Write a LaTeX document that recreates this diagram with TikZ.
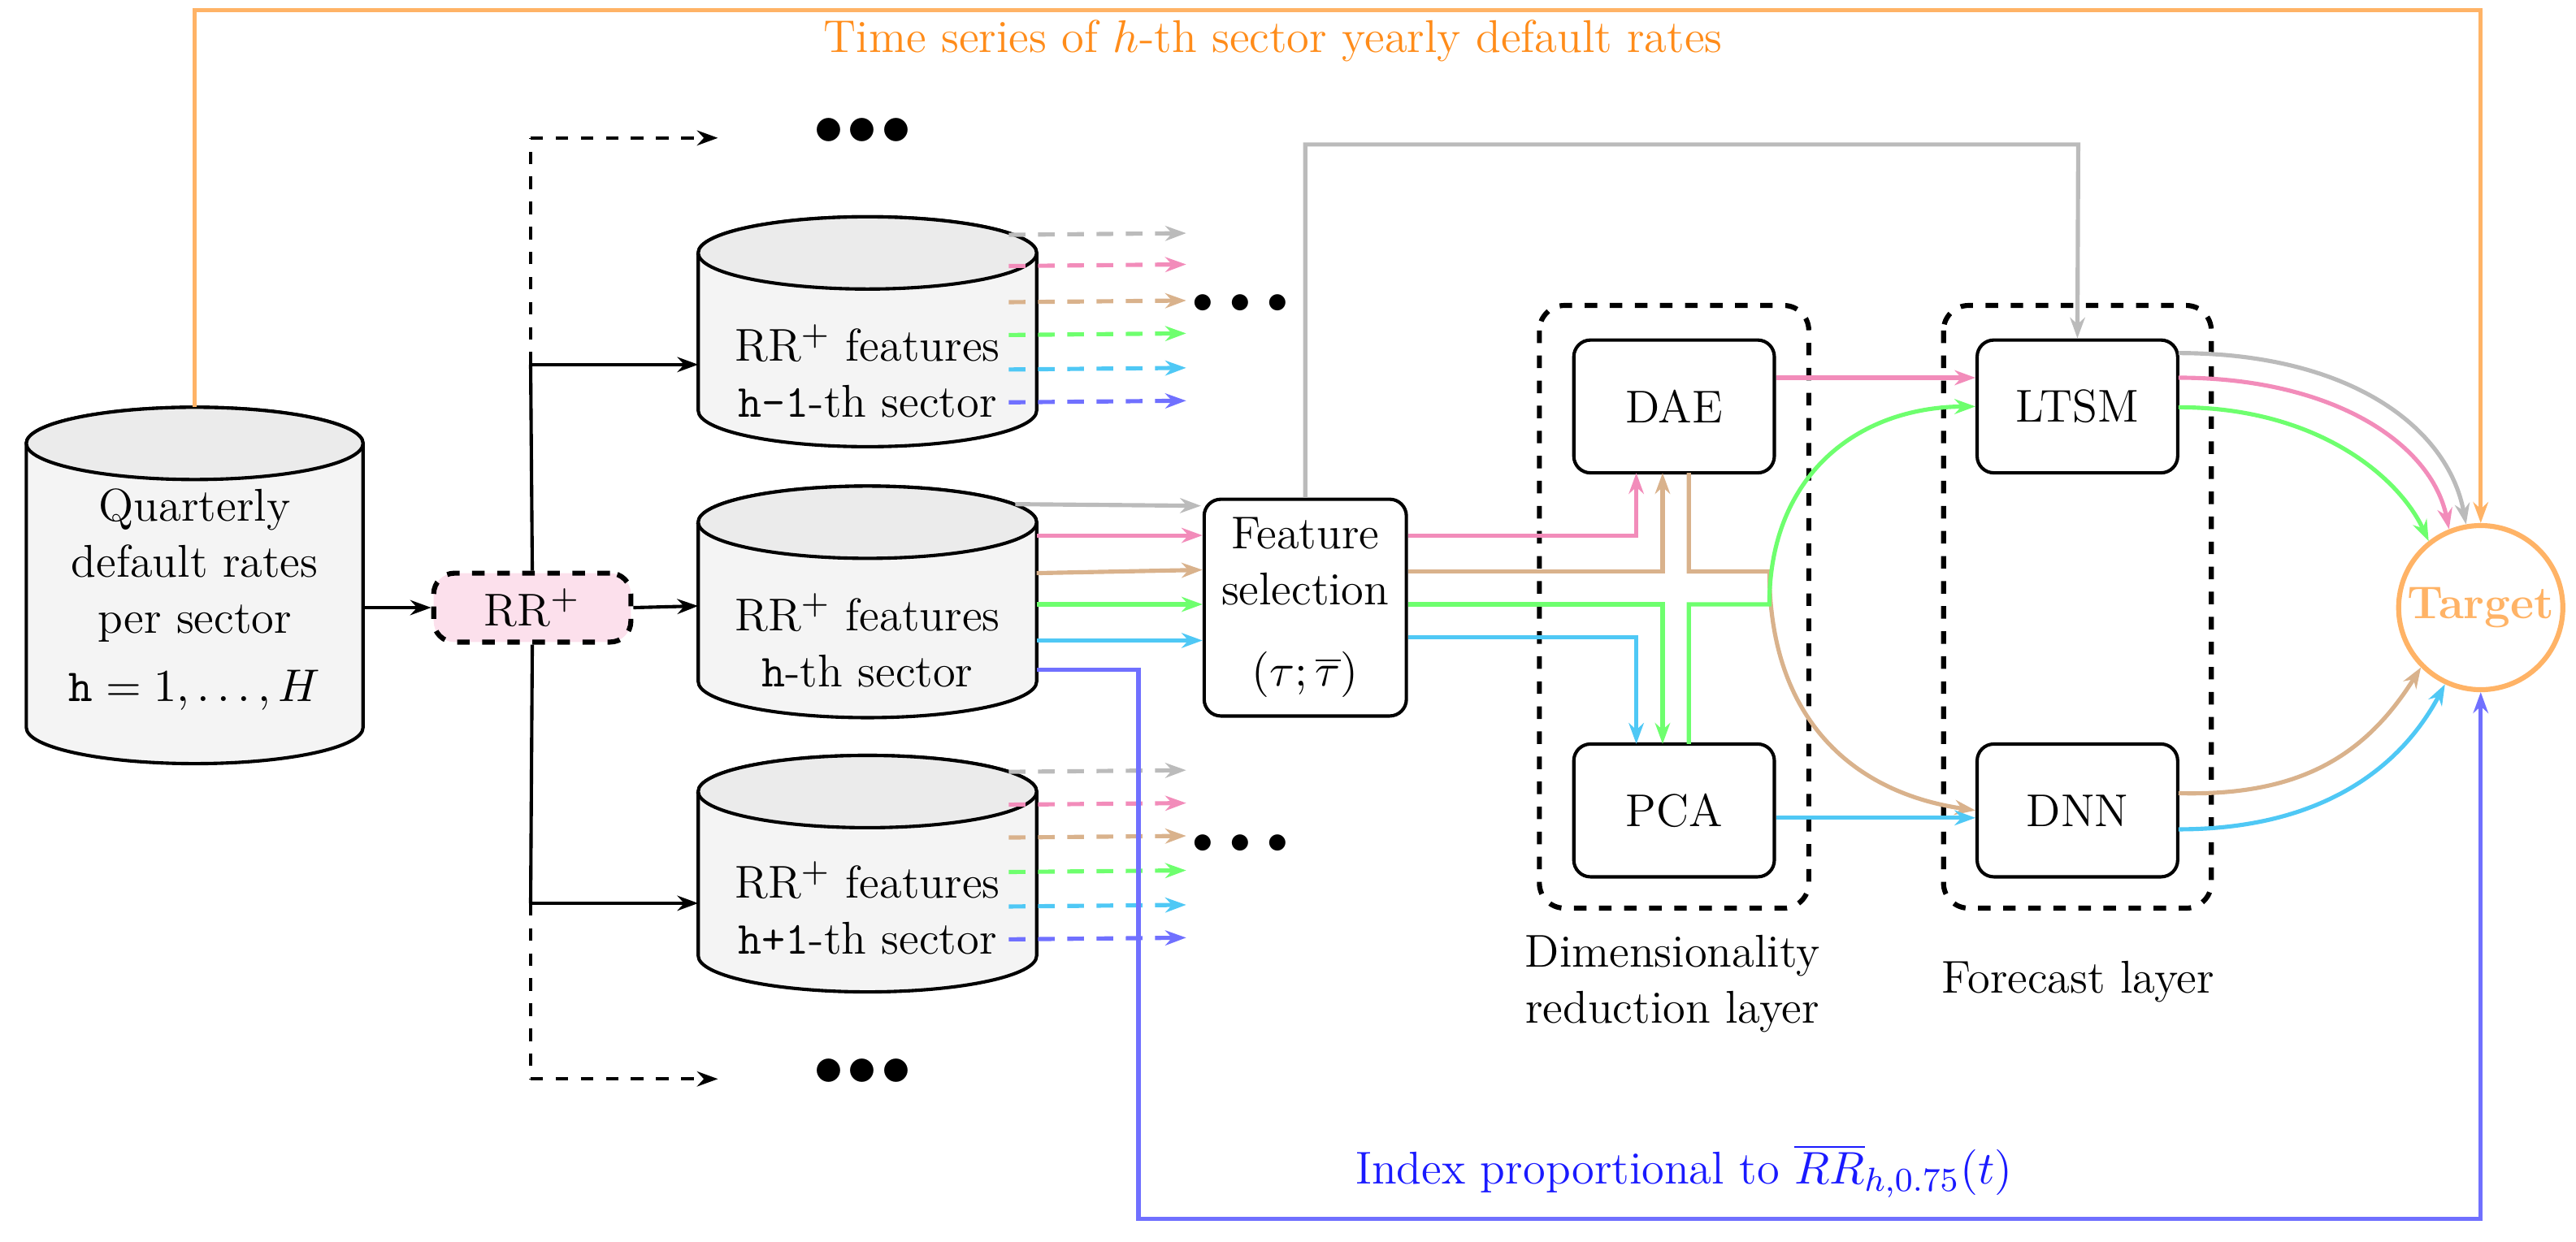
\documentclass[tikz,border=0pt]{standalone}
\usetikzlibrary{arrows.meta,calc}
\definecolor{cgray}{HTML}{BBBBBB}
\definecolor{cpink}{HTML}{F28CBA}
\definecolor{ctan}{HTML}{D9B28C}
\definecolor{cgreen}{HTML}{6EFF6E}
\definecolor{ccyan}{HTML}{4FC8F5}
\definecolor{cblue}{HTML}{7070FF}
\definecolor{corange}{HTML}{FFB366}
\definecolor{torange}{HTML}{FF8C1A}
\definecolor{tblue}{HTML}{1A1AFF}
\definecolor{cylbody}{HTML}{F4F4F4}
\definecolor{cyltop}{HTML}{EBEBEB}
\definecolor{rrfill}{HTML}{FCE0EC}
\begin{document}
\begin{tikzpicture}[x=0.3932pt,y=0.3932pt,
  every node/.style={font=\fontsize{11}{13.4}\selectfont},
  box/.style={draw,thick,rounded corners=4pt,minimum width=48pt,minimum height=31.8pt,align=center},
  col/.style={line width=1pt,-{Stealth[length=5pt,width=3.6pt]}},
  blk/.style={thick,-{Stealth[length=5pt,width=3.6pt]}},
  dsh/.style={col,dash pattern=on 4pt off 3pt},
  cylpath/.style={fill=cylbody,draw=black,thick},
  cyltoppath/.style={fill=cyltop,draw=black,thick}]
\useasboundingbox (0,0) rectangle (1568,-756);

% left cylinder
\path[cylpath] (16,-270) -- (16,-443) arc[start angle=180,end angle=360,x radius=40.3pt,y radius=8.65pt] -- (221,-270) arc[start angle=0,end angle=180,x radius=40.3pt,y radius=8.65pt] -- cycle;
\path[cyltoppath] (118.5,-270) ellipse[x radius=40.3pt,y radius=8.65pt];
\node[align=center] (c0) at (118.5,-365) {Quarterly\\default rates\\per sector\\[3pt]$\mathtt{h}=1,\dots,H$};

% right cylinders
\foreach \t/\b/\n in {154/250/c1,318/415/c2,482/582/c3}{
\path[cylpath] (425,-\t) -- (425,-\b) arc[start angle=180,end angle=360,x radius=40.5pt,y radius=8.65pt] -- (631,-\t) arc[start angle=0,end angle=180,x radius=40.5pt,y radius=8.65pt] -- cycle;
\path[cyltoppath] (528,-\t) ellipse[x radius=40.5pt,y radius=8.65pt];
}
\node[align=center] (c1) at (528,-226) {RR$^+$ features\\\texttt{h-1}-th sector};
\node[align=center] (c2) at (528,-390) {RR$^+$ features\\\texttt{h}-th sector};
\node[align=center] (c3) at (528,-553) {RR$^+$ features\\\texttt{h+1}-th sector};

% RR+ box
\node[draw,very thick,dashed,fill=rrfill,rounded corners=5pt,minimum width=47.2pt,minimum height=16.5pt] (rr) at (324,-370) {RR$^+$};
\draw[blk] (221,-370) -- (rr.west);
\draw[blk] (rr.east) -- (425,-369);
\coordinate (vtop) at (323,-84);
\coordinate (vbot) at (323,-657);
\draw[thick] (rr.north) -- (323,-222);
\draw[thick,dashed] (323,-222) -- (vtop);
\draw[blk,dashed] (vtop) -- (437,-84);
\draw[thick] (rr.south) -- (323,-550);
\draw[thick,dashed] (323,-550) -- (vbot);
\draw[blk,dashed] (vbot) -- (437,-657);
\draw[blk] (323,-222) -- (425,-222);
\draw[blk] (323,-550) -- (425,-550);
\node (d0) at (525,-80) {\Large$\bullet\!\bullet\!\bullet$};
\node (d3) at (525,-653) {\Large$\bullet\!\bullet\!\bullet$};
\node[font=\normalsize] (d1) at (755,-185) {$\bullet\,\bullet\,\bullet$};
\node[font=\normalsize] (d2) at (755,-514) {$\bullet\,\bullet\,\bullet$};
\node[font=\normalsize] at (525,-82) {};

% dashed feature arrows
\foreach \y/\c in {143/cgray,162/cpink,184/ctan,204/cgreen,225/ccyan,245/cblue}{\draw[dsh,\c] (614,-\y) -- (722,-\y+1);}
\foreach \y/\c in {470/cgray,490/cpink,510/ctan,531/cgreen,552/ccyan,572/cblue}{\draw[dsh,\c] (614,-\y) -- (722,-\y+1);}

% feature selection
\node[box,minimum width=48.4pt,minimum height=51.9pt] (fs) at (794.5,-370) {Feature\\selection\\[6pt]$(\tau;\overline{\tau})$};
\draw[col,cgray] (618,-307) -- (731,-308);
\draw[col,cpink] (631,-326) -- (fs.west |- 0,-326);
\draw[col,ctan] (631,-349) -- (fs.west |- 0,-347);
\draw[col,cgreen] (631,-368) -- (fs.west |- 0,-368);
\draw[col,ccyan] (631,-390) -- (fs.west |- 0,-390);

% groups
\draw[very thick,dashed,rounded corners=6pt] (937,-186) rectangle (1101,-553);
\draw[very thick,dashed,rounded corners=6pt] (1183,-186) rectangle (1346,-553);
\node[align=center] (lab1) at (1018,-599) {Dimensionality\\reduction layer};
\node (lab2) at (1265,-598) {Forecast layer};

\node[box] (dae) at (1019,-247.5) {DAE};
\node[box] (pca) at (1019,-493.5) {PCA};
\node[box] (ltsm) at (1264.5,-247.5) {LTSM};
\node[box] (dnn) at (1264.5,-493.5) {DNN};
\node[circle,draw=corange,line width=1.2pt,minimum size=39.3pt,inner sep=0pt,text=corange,font=\fontsize{11}{13}\selectfont\bfseries] (T) at (1510,-370) {Target};

% FS to DR
\draw[col,cpink] (fs.east |- 0,-326) -| (996,-288);
\draw[col,ctan] (fs.east |- 0,-348) -| (1012,-288);
\draw[col,cgreen] (fs.east |- 0,-368) -| (1012,-453);
\draw[col,ccyan] (fs.east |- 0,-388) -| (996,-453);
% DAE/PCA crossing outputs
\draw[line width=1pt,ctan,-{Stealth[length=5pt,width=3.6pt]}] (1028,-288) |- (1077,-348) .. controls (1077,-440) and (1130,-483) .. (dnn.west);
\draw[line width=1pt,cgreen,-{Stealth[length=5pt,width=3.6pt]}] (1028,-453) |- (1077,-368) .. controls (1077,-290) and (1130,-248) .. (ltsm.west);
\draw[col,cpink] (dae.east |- 0,-230) -- (ltsm.west |- 0,-230);
\draw[col,ccyan] (pca.east |- 0,-498) -- (dnn.west |- 0,-498);

% gray top
\draw[col,cgray] (fs.north) |- (1265,-88) -- (ltsm.north);

% to target
\draw[col,cgray] (1326,-215) .. controls (1430,-215) and (1490,-260) .. (T.100);
\draw[col,cpink] (1326,-230) .. controls (1420,-230) and (1480,-270) .. (T.112);
\draw[col,cgreen] (1326,-248) .. controls (1410,-248) and (1460,-290) .. (T.128);
\draw[col,ctan] (1326,-483) .. controls (1400,-485) and (1440,-460) .. (T.225);
\draw[col,ccyan] (1326,-505) .. controls (1410,-505) and (1460,-470) .. (T.245);

% orange
\draw[col,corange] (118.5,-248) |- (1510,-6) -- (T.north);
\node[text=torange] (ot) at (775,-25) {Time series of $h$-th sector yearly default rates};
% blue
\draw[col,cblue] (631,-408) -| (693,-742) -| (T.south);
\node[text=tblue] (bt) at (1025,-713) {Index proportional to $\overline{RR}_{h,0.75}(t)$};
\end{tikzpicture}
\end{document}
